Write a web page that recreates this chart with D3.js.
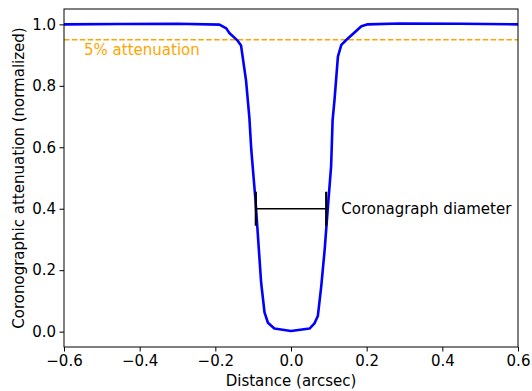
<!DOCTYPE html>
<html>
<head>
<meta charset="utf-8">
<script src="https://cdn.jsdelivr.net/npm/d3@7/dist/d3.min.js"></script>
<style>
  html, body { margin: 0; padding: 0; background: #fff; }
  svg { display: block; font-family: "DejaVu Sans", sans-serif; }
</style>
</head>
<body>
<svg id="chart" width="532" height="391"></svg>
<script>
// Radial profile of the coronagraphic attenuation (normalized)
const distance = [-0.6, -0.45, -0.3, -0.189, -0.171, -0.163, -0.141, -0.132, -0.119, -0.110,
  -0.105, -0.094, -0.088, -0.079, -0.070, -0.061, -0.044, 0.0, 0.049, 0.062, 0.071, 0.080,
  0.089, 0.097, 0.106, 0.110, 0.115, 0.124, 0.133, 0.146, 0.186, 0.203, 0.287, 0.45, 0.6];
const attenuation = [1.0, 1.001, 1.002, 0.999, 0.987, 0.972, 0.947, 0.931, 0.819, 0.696,
  0.592, 0.430, 0.322, 0.160, 0.063, 0.029, 0.010, 0.002, 0.010, 0.027, 0.051, 0.148,
  0.267, 0.397, 0.538, 0.689, 0.754, 0.895, 0.933, 0.949, 0.994, 1.0, 1.003, 1.002, 1.0];

const threshold = 0.95;                 // 5% attenuation level
const diameterEnds = [-0.093, 0.093];   // coronagraph diameter (arcsec)
const diameterLevel = 0.4;

const xTicks = [-0.6, -0.4, -0.2, 0.0, 0.2, 0.4, 0.6];
const yTicks = [0.0, 0.2, 0.4, 0.6, 0.8, 1.0];

const W = 532, H = 391;
const margin = { top: 9, right: 14, bottom: 44, left: 64 };
const FS = 15;
const svg = d3.select("#chart");

const x = d3.scaleLinear().domain([-0.6, 0.6]).range([margin.left, W - margin.right]);
const y = d3.scaleLinear().domain([-0.05, 1.05]).range([H - margin.bottom, margin.top]);

const fmt = d3.format(".1f");

// Plot clip
svg.append("defs").append("clipPath").attr("id", "plot-clip")
  .append("rect")
  .attr("x", margin.left).attr("y", margin.top)
  .attr("width", W - margin.left - margin.right)
  .attr("height", H - margin.top - margin.bottom);

const plot = svg.append("g").attr("clip-path", "url(#plot-clip)");

// 5% attenuation threshold
plot.append("line")
  .attr("x1", x(-0.6)).attr("x2", x(0.6))
  .attr("y1", y(threshold)).attr("y2", y(threshold))
  .attr("stroke", "orange").attr("stroke-width", 1.5)
  .attr("stroke-dasharray", "5.5,2.4");

// Attenuation profile
const line = d3.line().x((d, i) => x(distance[i])).y((d, i) => y(attenuation[i]));
plot.append("path")
  .datum(attenuation)
  .attr("d", line)
  .attr("fill", "none")
  .attr("stroke", "#0000ff")
  .attr("stroke-width", 2.6)
  .attr("stroke-linejoin", "round");

// Coronagraph diameter bar with end caps
const bar = svg.append("g").attr("stroke", "black");
bar.append("line")
  .attr("x1", x(diameterEnds[0])).attr("x2", x(diameterEnds[1]))
  .attr("y1", y(diameterLevel)).attr("y2", y(diameterLevel))
  .attr("stroke-width", 1.6);
bar.selectAll("line.cap").data(diameterEnds).enter().append("line")
  .attr("class", "cap")
  .attr("x1", d => x(d)).attr("x2", d => x(d))
  .attr("y1", y(diameterLevel) - 17).attr("y2", y(diameterLevel) + 17)
  .attr("stroke-width", 2.2);

svg.append("text")
  .attr("x", x(0.133)).attr("y", y(diameterLevel))
  .attr("dy", "0.35em")
  .attr("font-size", FS)
  .attr("fill", "black")
  .text("Coronagraph diameter");

svg.append("text")
  .attr("x", x(-0.547)).attr("y", y(threshold) + 15)
  .attr("font-size", FS)
  .attr("fill", "orange")
  .text("5% attenuation");

// Frame
svg.append("rect")
  .attr("x", margin.left).attr("y", margin.top)
  .attr("width", W - margin.left - margin.right)
  .attr("height", H - margin.top - margin.bottom)
  .attr("fill", "none").attr("stroke", "black").attr("stroke-width", 1);

// Axes
const xAxis = svg.append("g")
  .attr("transform", `translate(0,${H - margin.bottom})`)
  .call(d3.axisBottom(x).tickValues(xTicks).tickFormat(fmt).tickSize(4.5).tickPadding(3.5));
const yAxis = svg.append("g")
  .attr("transform", `translate(${margin.left},0)`)
  .call(d3.axisLeft(y).tickValues(yTicks).tickFormat(fmt).tickSize(4.5).tickPadding(3.5));

[xAxis, yAxis].forEach(g => {
  g.select(".domain").remove();
  g.selectAll(".tick line").attr("stroke", "black").attr("stroke-width", 1);
  g.selectAll(".tick text").attr("font-size", FS).attr("fill", "black")
    .attr("font-family", "DejaVu Sans, sans-serif");
});

// Axis titles
svg.append("text")
  .attr("x", x(0)).attr("y", H - 5)
  .attr("text-anchor", "middle")
  .attr("font-size", FS)
  .text("Distance (arcsec)");

svg.append("text")
  .attr("transform", `translate(24,${(margin.top + H - margin.bottom) / 2}) rotate(-90)`)
  .attr("text-anchor", "middle")
  .attr("font-size", FS)
  .text("Coronographic attenuation (normalized)");
</script>
</body>
</html>
